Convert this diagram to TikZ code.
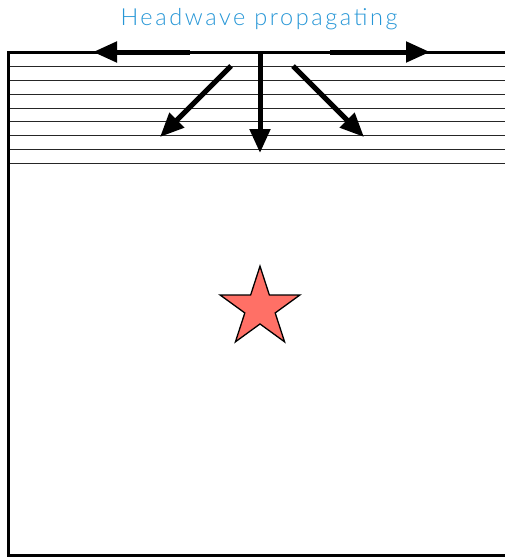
\documentclass[tikz,border=0pt]{standalone}
\usepackage{fontspec}
\setmainfont{Lato}
\newfontfamily\titlefont[LetterSpace=11]{Lato Light}
\usetikzlibrary{arrows.meta,shapes.geometric}
\definecolor{titleblue}{RGB}{38,150,214}
\definecolor{starred}{RGB}{255,112,102}

\begin{document}
\begin{tikzpicture}[x=1pt, y=-1pt, every node/.style={font=\titlefont\fontsize{23.5}{28}\selectfont},
 frame/.style={line width=3pt},
 layer/.style={line width=0.9pt, black!85},
 wave/.style={line width=5pt, -{Triangle[length=24pt,width=20pt]}},
 source/.style={star, star points=5, star point ratio=2.618, minimum size=83.6pt, inner sep=0pt, draw, line width=1.3pt, fill=starred}]
\useasboundingbox (0,0) rectangle (504,557);
\node[text=titleblue] (title) at (259,19) {Headwave propagating};
\foreach \y in {66,80,94,108,121,135,149,163}
  \draw[layer] (10,\y) -- (506,\y);
\draw[frame] (506,52) -| (8,555) -- (506,555);
\coordinate (origin) at (260,52);
\coordinate (leftstart) at (190,52);
\coordinate (lefttip) at (93,52);
\coordinate (rightstart) at (330,52);
\coordinate (righttip) at (430,52);
\coordinate (downtip) at (260,153);
\coordinate (dlstart) at (231,66);
\coordinate (dltip) at (160,137);
\coordinate (drstart) at (293,66);
\coordinate (drtip) at (364,137);
\draw[wave] (leftstart) -- (lefttip);
\draw[wave] (rightstart) -- (righttip);
\draw[wave] (origin) -- (downtip);
\draw[wave] (dlstart) -- (dltip);
\draw[wave] (drstart) -- (drtip);
\node[source] (quake) at (260,308) {};
\end{tikzpicture}
\end{document}
